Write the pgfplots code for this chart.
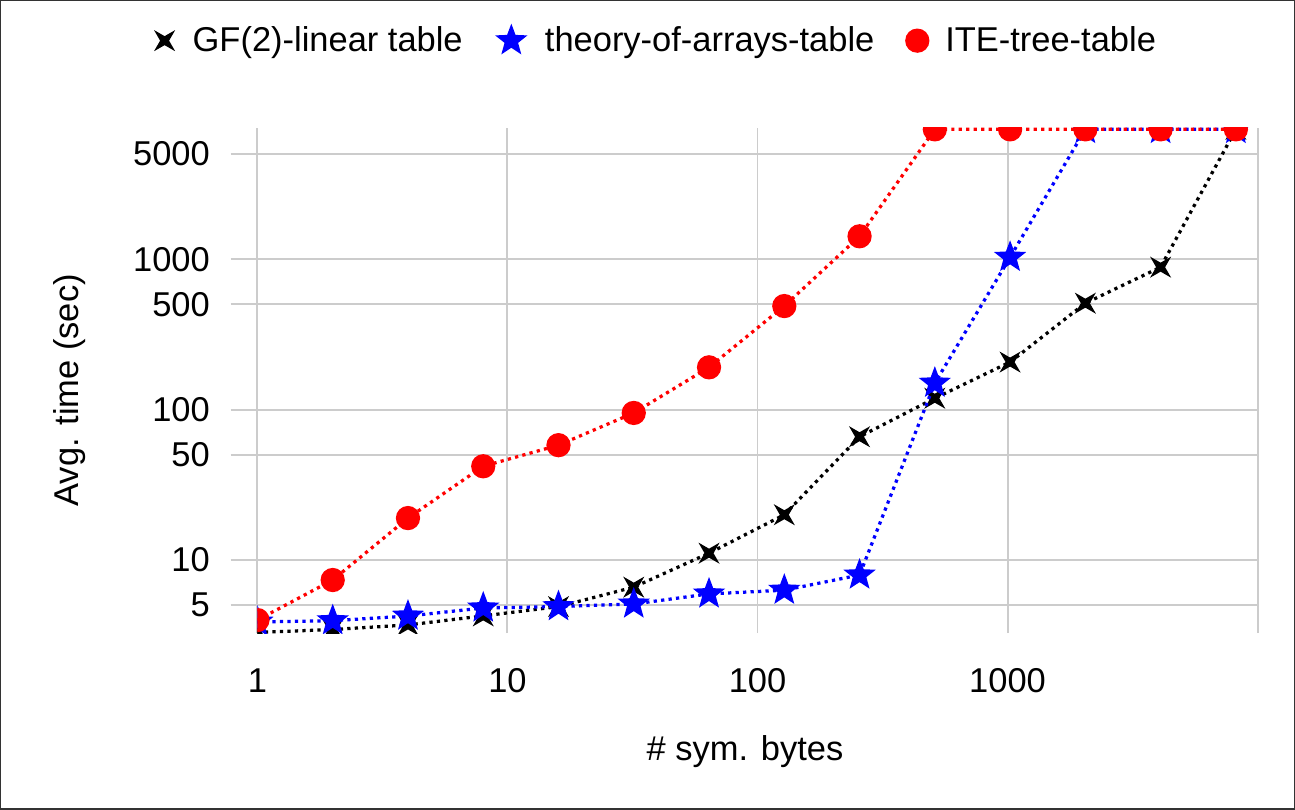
\documentclass[border=0pt]{standalone}
\usepackage{fontspec}
\setmainfont{Liberation Sans}
\usepackage{pgfplots}
\pgfplotsset{compat=1.18}

% filled five-pointed star
\pgfdeclareplotmark{fstar}{%
  \pgfpathmoveto{\pgfpointpolar{90}{\pgfplotmarksize}}%
  \pgfpathlineto{\pgfpointpolar{126}{0.42\pgfplotmarksize}}%
  \pgfpathlineto{\pgfpointpolar{162}{\pgfplotmarksize}}%
  \pgfpathlineto{\pgfpointpolar{198}{0.42\pgfplotmarksize}}%
  \pgfpathlineto{\pgfpointpolar{234}{\pgfplotmarksize}}%
  \pgfpathlineto{\pgfpointpolar{270}{0.42\pgfplotmarksize}}%
  \pgfpathlineto{\pgfpointpolar{306}{\pgfplotmarksize}}%
  \pgfpathlineto{\pgfpointpolar{342}{0.42\pgfplotmarksize}}%
  \pgfpathlineto{\pgfpointpolar{18}{\pgfplotmarksize}}%
  \pgfpathlineto{\pgfpointpolar{54}{0.42\pgfplotmarksize}}%
  \pgfpathclose\pgfusepathqfill}
% filled four-pointed cross
\pgfdeclareplotmark{fx}{%
  \pgfpathmoveto{\pgfpointpolar{45}{\pgfplotmarksize}}%
  \pgfpathlineto{\pgfpointpolar{90}{0.3\pgfplotmarksize}}%
  \pgfpathlineto{\pgfpointpolar{135}{\pgfplotmarksize}}%
  \pgfpathlineto{\pgfpointpolar{180}{0.3\pgfplotmarksize}}%
  \pgfpathlineto{\pgfpointpolar{225}{\pgfplotmarksize}}%
  \pgfpathlineto{\pgfpointpolar{270}{0.3\pgfplotmarksize}}%
  \pgfpathlineto{\pgfpointpolar{315}{\pgfplotmarksize}}%
  \pgfpathlineto{\pgfpointpolar{0}{0.3\pgfplotmarksize}}%
  \pgfpathclose\pgfusepathqfill}

\definecolor{gridgray}{RGB}{204,204,204}

\begin{document}
\begin{tikzpicture}
  % outer frame (1295 x 809 px at 0.4pt per px)
  \draw[line width=0.6pt, black!80] (0,0) rectangle (518pt,323.6pt);
  \begin{axis}[
      at={(102.8pt,70.4pt)}, anchor=south west,
      scale only axis,
      width=400.5pt, height=202.4pt,
      xmode=log, ymode=log,
      xmin=1, xmax=10000,
      ymin=3.27, ymax=7500,
      xtick={1,10,100,1000,10000},
      xticklabels={1,10,100,1000,},
      ytick={5,10,50,100,500,1000,5000},
      yticklabels={5,10,50,100,500,1000,5000},
      minor xtick={}, minor ytick={},
      axis line style={draw=none},
      grid=major,
      major grid style={gridgray, line width=0.8pt},
      xtick style={draw=none},
      ytick style={gridgray, line width=0.8pt},
      ytick pos=left,
      tick align=outside,
      major tick length=10.8pt,
      yticklabel style={xshift=-4.8pt},
      /pgf/number format/assume math mode=true,
      every tick label/.append style={font=\fontsize{13.8}{16}\selectfont, text=black},
      xlabel={\# sym. bytes},
      ylabel={Avg. time (sec)},
      label style={font=\fontsize{13.8}{16}\selectfont},
      xlabel style={at={(axis description cs:0.4875,-0.235)}, anchor=center},
      ylabel style={at={(axis description cs:-0.188,0.48)}, anchor=center},
      clip marker paths=true,
      legend columns=-1,
      legend style={at={(axis description cs:0.40,1.172)}, anchor=center,
        draw=none, font=\fontsize{13.8}{16}\selectfont,
        /tikz/every odd column/.append style={column sep=5pt},
        /tikz/every even column/.append style={column sep=11pt}},
      legend image code/.code={\draw[#1, only marks] plot coordinates {(0.2cm,0cm)};},
      every axis plot/.append style={line width=1.3pt, dash pattern=on 1.3pt off 1.7pt},
    ]
    \addplot[black, mark=fx, mark size=6pt, mark options={solid}] coordinates {
      (1,3.3) (2,3.45) (4,3.7) (8,4.25) (16,4.9) (32,6.6) (64,11.1)
      (128,20) (256,66) (512,119) (1024,207) (2048,510) (4096,885) (8192,7300)
    };
    \addlegendentry{GF(2)-linear table}
    \addplot[blue, mark=fstar, mark size=6.8pt, mark options={solid}] coordinates {
      (1,3.87) (2,3.95) (4,4.24) (8,4.8) (16,4.9) (32,5.1) (64,5.95)
      (128,6.3) (256,7.95) (512,150) (1024,1030) (2048,7300) (4096,7300) (8192,7300)
    };
    \addlegendentry{theory-of-arrays-table}
    \addplot[red, mark=*, mark size=4.2pt, mark options={solid}] coordinates {
      (1,3.99) (2,7.36) (4,19) (8,42) (16,58) (32,95) (64,191)
      (128,488) (256,1420) (512,7300) (1024,7300) (2048,7300) (4096,7300) (8192,7300)
    };
    \addlegendentry{ITE-tree-table}
  \end{axis}
\end{tikzpicture}
\end{document}
